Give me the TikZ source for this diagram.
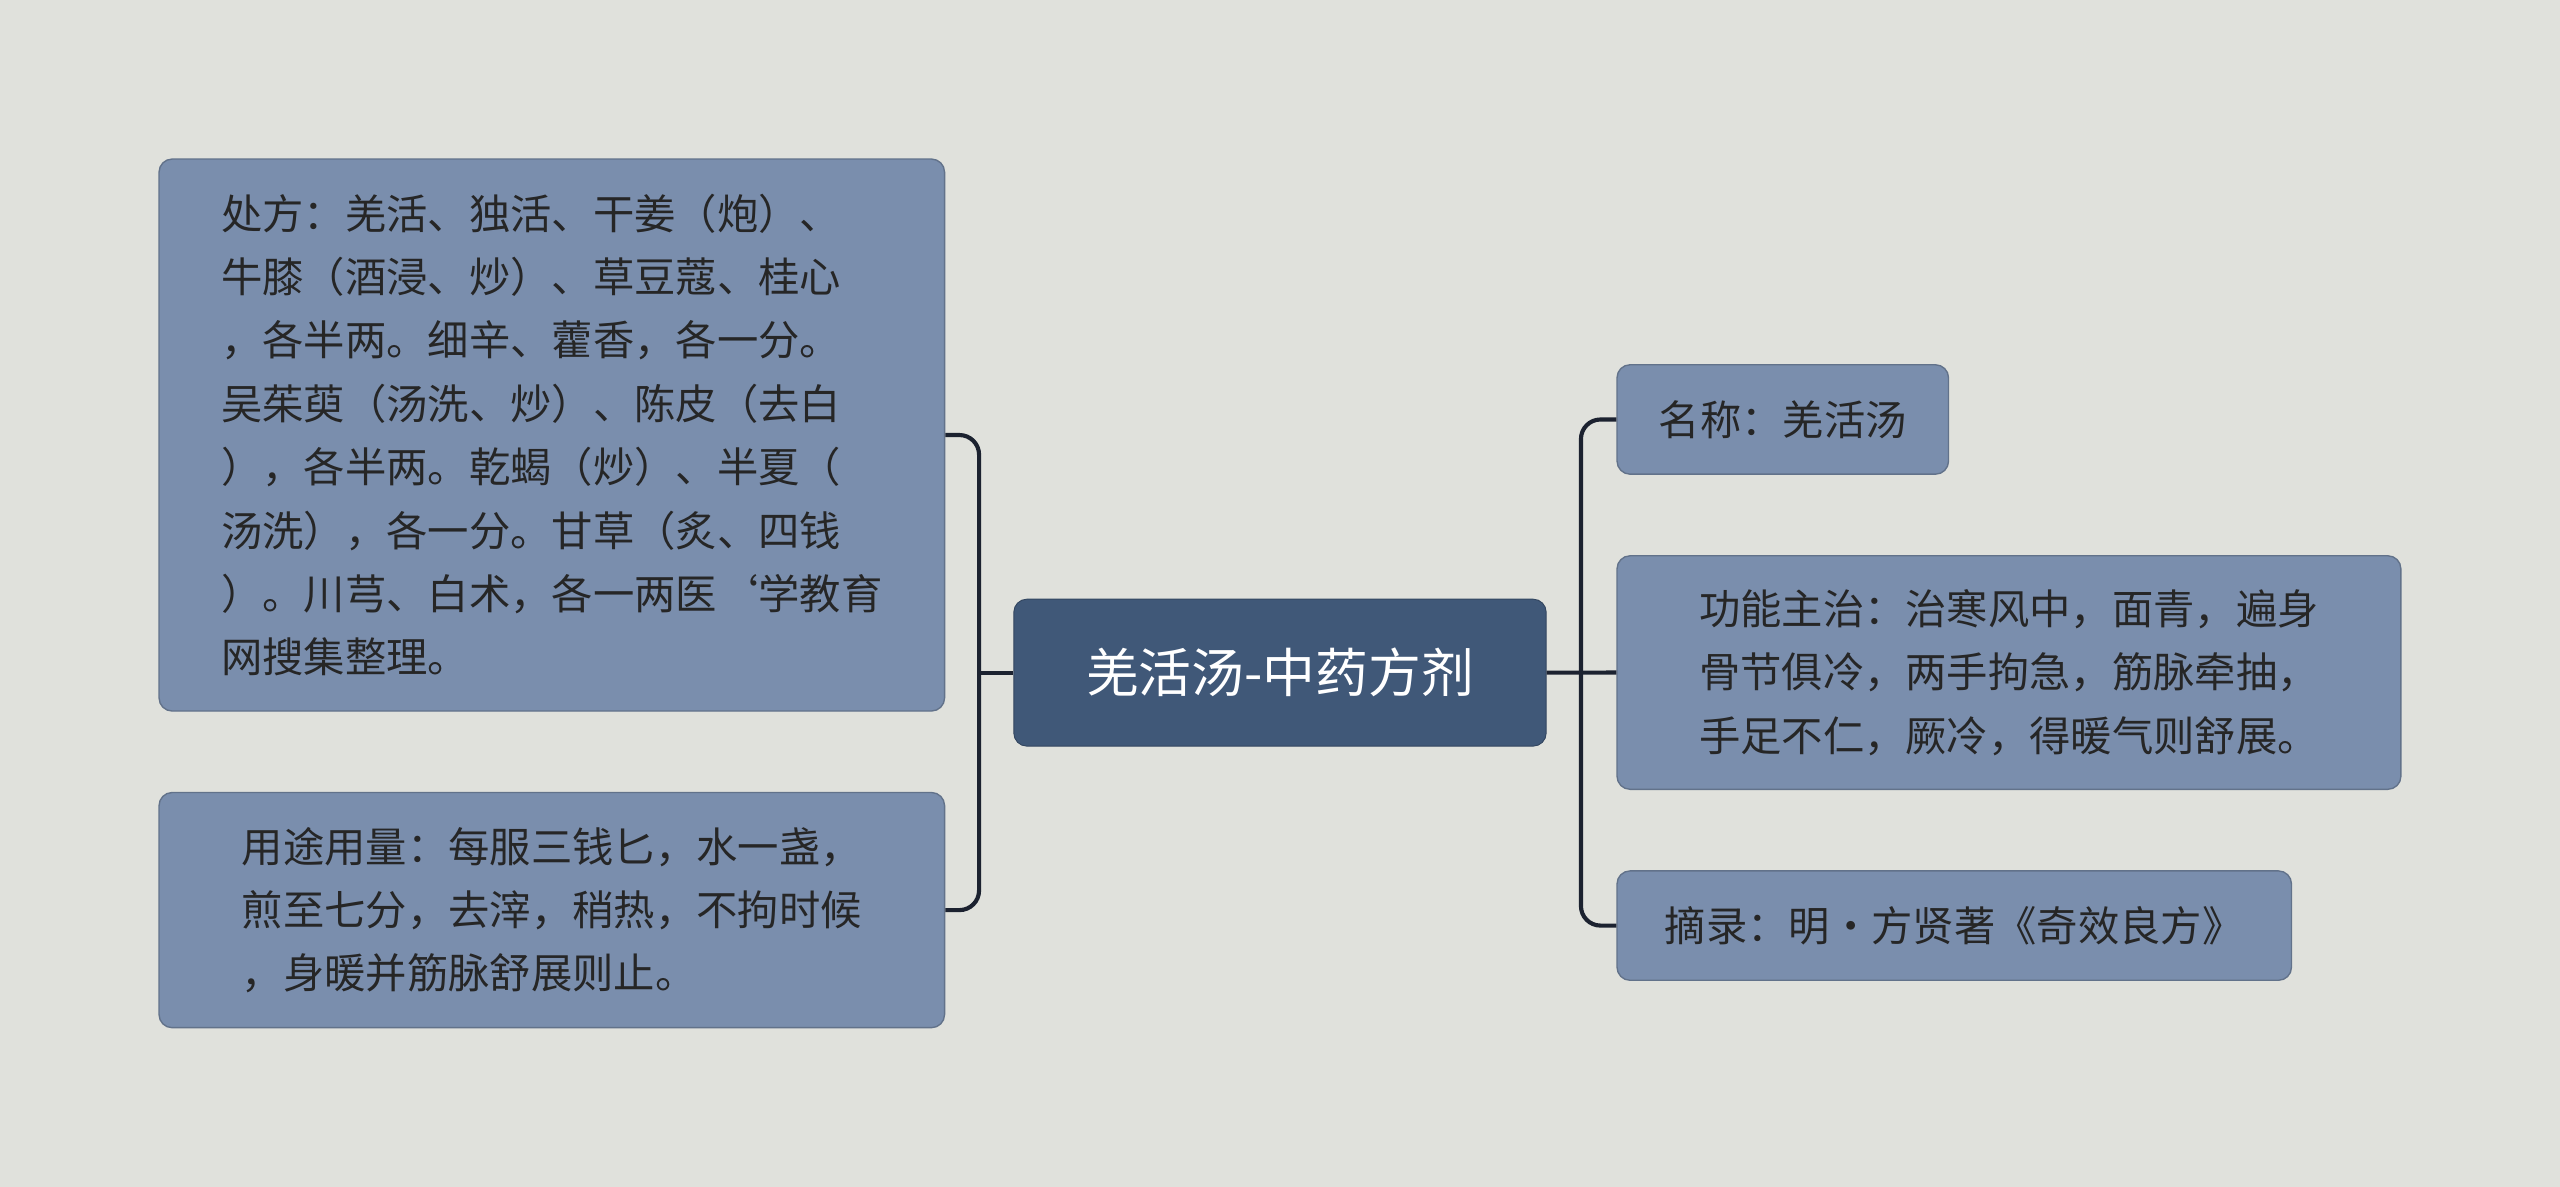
\documentclass[tikz,border=0pt]{standalone}
\usepackage{fontspec}
\setmainfont{Noto Sans CJK SC}
\usetikzlibrary{calc}
\usetikzlibrary{positioning}
\definecolor{bgcol}{HTML}{E0E1DC}
\definecolor{rootcol}{HTML}{405878}
\definecolor{leafcol}{HTML}{7A8EAD}
\definecolor{linecol}{HTML}{1C2230}
\tikzset{leaf/.style={draw=leafcol!80!black, line width=0.6pt, fill=leafcol, rounded corners=0.2cm, anchor=north west, align=left, inner xsep=0.36cm, inner ysep=0.3cm, font=\fontsize{18pt}{27.6pt}\selectfont, text=black!85}}
\begin{document}
\begin{tikzpicture}[x=0.025cm,y=-0.025cm]
\tikzset{root/.style={draw=rootcol!80!black, fill=rootcol, rounded corners=0.2cm, text=white, minimum width=8.15cm, minimum height=2.25cm, font=\fontsize{23pt}{28pt}\selectfont}}
\tikzset{conn/.style={draw=linecol, line width=1.8pt, rounded corners=0.3cm}}
\fill[bgcol] (0,0) rectangle (1568,727);

\node[root] (root) at (784,412) {羌活汤-中药方剂};

% left branch
\node[leaf, minimum width=12.025cm, minimum height=8.45cm] (recipe) at (97,97) {处方：羌活、独活、干姜（炮）、\\牛膝（酒浸、炒）、草豆蔻、桂心\\，各半两。细辛、藿香，各一分。\\吴茱萸（汤洗、炒）、陈皮（去白\\），各半两。乾蝎（炒）、半夏（\\汤洗），各一分。甘草（炙、四钱\\）。川芎、白术，各一两医`学教育\\网搜集整理。};
\node[leaf, minimum width=12.025cm, minimum height=3.6cm] (usage) at (97,485) {用途用量：每服三钱匕，水一盏，\\煎至七分，去滓，稍热，不拘时候\\，身暖并筋脉舒展则止。};

% right branch
\node[leaf, minimum width=5.075cm, minimum height=1.675cm] (name) at (990,223) {名称：羌活汤};
\node[leaf, minimum width=12.0cm, minimum height=3.575cm] (func) at (990,340) {功能主治：治寒风中，面青，遍身\\骨节俱冷，两手拘急，筋脉牵抽，\\手足不仁，厥冷，得暖气则舒展。};
\node[leaf, minimum width=10.325cm, minimum height=1.675cm] (source) at (990,533) {摘录：明·方贤著《奇效良方》};

\draw[conn] (root.west) -- ++(-21,0);
\draw[conn] (recipe.east) -| ($(root.west)+(-21,0)$) |- (usage.east);
\draw[conn] (root.east) -- (func.west);
\draw[conn] (name.west) -| ($(root.east)+(21,0)$) |- (source.west);
\end{tikzpicture}
\end{document}
